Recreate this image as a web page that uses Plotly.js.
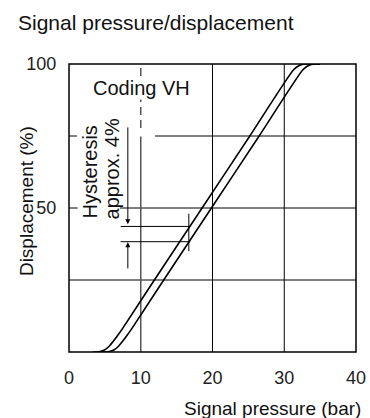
<!DOCTYPE html>
<html><head><meta charset="utf-8">
<script src="https://cdn.plot.ly/plotly-3.0.1.min.js"></script>
<style>html,body{margin:0;padding:0;background:#fff}#chart{width:370px;height:418px}</style>
</head><body><div id="chart"></div>
<script>
// Data
const xTicks = [0, 10, 20, 30, 40];
const yTicks = [50, 100];
const yTickText = ['50', '100'];
// decreasing-pressure branch (left curve)
const pressureLeft = [3.3, 4.3, 5.0, 5.6, 6.2, 6.8, 7.5, 11.9, 18.55, 25.2, 31.3, 32.1, 33.0, 35.0];
const dispLeft     = [0, 0.2, 0.8, 2.0, 3.8, 5.8, 8.3, 25, 50, 75, 98, 99.5, 100, 100];
// increasing-pressure branch (right curve)
const pressureRight = [4.6, 5.6, 6.3, 6.9, 7.5, 8.1, 8.8, 13.2, 19.85, 26.5, 32.6, 33.4, 34.3, 35.0];
const dispRight     = [0, 0.2, 0.8, 2.0, 3.8, 5.8, 8.3, 25, 50, 75, 98, 99.5, 100, 100];
// hysteresis marker levels
const hystUpper = 43.6, hystLower = 38.3, hystX = 16.7, arrowX = 8.2;
const codingX = 10;

const black = '#000';
const curveStyle = {color: black, width: 1.6, shape: 'spline', smoothing: 0.6};
const traces = [
  {x: pressureLeft, y: dispLeft, mode: 'lines', line: curveStyle, hoverinfo: 'skip', showlegend: false},
  {x: pressureRight, y: dispRight, mode: 'lines', line: curveStyle, hoverinfo: 'skip', showlegend: false}
];

function seg(x0, y0, x1, y1, color, width, dash) {
  return {type: 'line', xref: 'x', yref: 'y', x0, y0, x1, y1, layer: 'below',
          line: {color: color || black, width: width || 1, dash: dash || 'solid'}};
}
const shapes = [
  seg(0, 25, 40, 25),
  seg(0, 50, 1.2, 50), seg(7.1, 50, 40, 50),
  seg(0, 75, 1.1, 75), seg(12.0, 75, 40, 75),
  seg(20, 0, 20, 100), seg(30, 0, 30, 100),
  seg(codingX, 0, codingX, 74.8, '#555', 1.5),
  seg(codingX, 77.8, codingX, 100, '#555', 1.5, '8px,5px'),
  seg(7.2, hystUpper, 16.9, hystUpper, black, 1),
  seg(7.2, hystLower, 16.9, hystLower, black, 1),
  seg(hystX, 35, hystX, 48, black, 1),
  {type: 'rect', xref: 'paper', yref: 'paper', x0: 0, y0: 0, x1: 1, y1: 1, layer: 'above',
   line: {color: black, width: 1.5}}
];

const font = 'Liberation Sans, Arial, sans-serif';
const txt = '#111';
const annotations = [
  {x: 10.17, y: 91.5, xref: 'x', yref: 'y', text: 'Coding VH', showarrow: false,
   bgcolor: '#fff', borderpad: 0, font: {family: font, size: 20, color: txt}},
  {x: 2.93, y: 45.5, xref: 'x', yref: 'y', text: 'Hysteresis', textangle: -90, xanchor: 'center', yanchor: 'bottom',
   showarrow: false, font: {family: font, size: 20, color: txt}},
  {x: 5.99, y: 45.5, xref: 'x', yref: 'y', text: 'approx. 4%', textangle: -90, xanchor: 'center', yanchor: 'bottom',
   showarrow: false, font: {family: font, size: 20, color: txt}},
  {x: arrowX, y: hystUpper + 0.8, ax: arrowX, ay: 78.5, xref: 'x', yref: 'y', axref: 'x', ayref: 'y',
   text: '', showarrow: true, arrowhead: 2, arrowsize: 1, arrowwidth: 1, arrowcolor: black},
  {x: arrowX, y: hystLower - 0.2, ax: arrowX, ay: 28.5, xref: 'x', yref: 'y', axref: 'x', ayref: 'y',
   text: '', showarrow: true, arrowhead: 2, arrowsize: 1, arrowwidth: 1, arrowcolor: black},
  {x: 1, y: 0, xref: 'paper', yref: 'paper', xanchor: 'right', yanchor: 'top', yshift: -44, xshift: 7,
   text: 'Signal pressure (bar)', showarrow: false, font: {family: font, size: 19, color: txt}},
  {x: 0, y: 0.524, xref: 'paper', yref: 'paper', xanchor: 'center', yanchor: 'middle', xshift: -43,
   text: 'Displacement (%)', textangle: -90, showarrow: false, font: {family: font, size: 19, color: txt}}
];

const layout = {
  width: 370, height: 418,
  margin: {l: 69, r: 14, t: 64, b: 66},
  paper_bgcolor: '#fff', plot_bgcolor: '#fff',
  title: {text: 'Signal pressure/displacement', x: 18 / 370, xanchor: 'left', xref: 'container',
          y: 1 - 23 / 418, yanchor: 'middle', yref: 'container',
          font: {family: font, size: 21, color: txt}},
  xaxis: {range: [0, 40], tickvals: xTicks, showgrid: false, zeroline: false, showline: false,
          ticks: 'outside', ticklen: 9, tickcolor: 'rgba(0,0,0,0)',
          tickfont: {family: font, size: 18, color: '#222'}, fixedrange: true},
  yaxis: {range: [0, 100], tickvals: yTicks, ticktext: yTickText, showgrid: false, zeroline: false,
          showline: false, ticks: 'outside', ticklen: 8, tickcolor: 'rgba(0,0,0,0)',
          tickfont: {family: font, size: 18, color: '#222'}, fixedrange: true},
  shapes, annotations, showlegend: false
};
Plotly.newPlot('chart', traces, layout, {displayModeBar: false, staticPlot: true});
</script></body></html>
